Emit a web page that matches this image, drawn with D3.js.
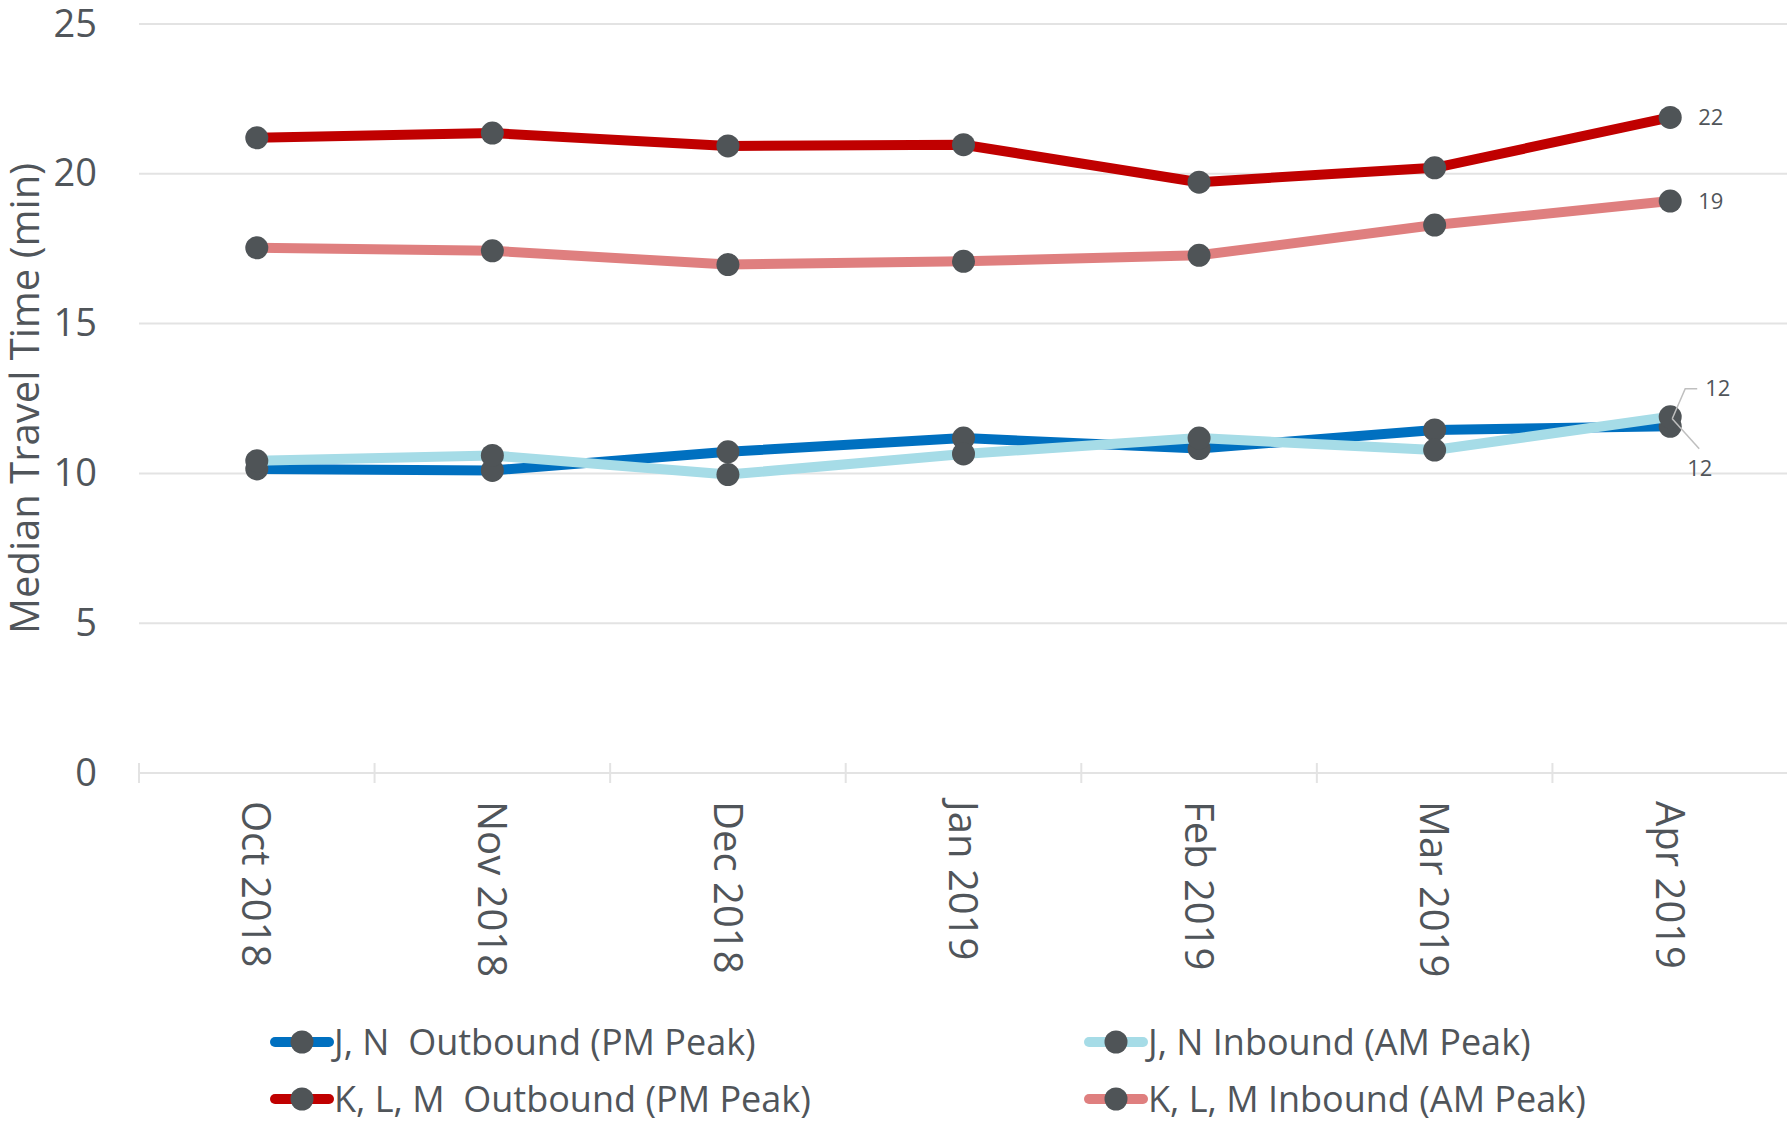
<!DOCTYPE html>
<html>
<head>
<meta charset="utf-8">
<title>Median Travel Time</title>
<script src="https://d3js.org/d3.v7.min.js"></script>
<style>
  body { margin: 0; background: #fff; }
  text { font-family: "Open Sans", "Noto Sans", sans-serif; fill: #50555a; }
</style>
</head>
<body>
<svg id="chart" width="1787" height="1124"></svg>
<script>
// data
const months = ["Oct 2018", "Nov 2018", "Dec 2018", "Jan 2019", "Feb 2019", "Mar 2019", "Apr 2019"];
const jnOutbound = [10.15, 10.1, 10.72, 11.18, 10.83, 11.45, 11.57];
const jnInbound = [10.42, 10.6, 9.96, 10.65, 11.18, 10.78, 11.89];
const klmOutbound = [21.2, 21.36, 20.93, 20.97, 19.72, 20.2, 21.88];
const klmInbound = [17.53, 17.43, 16.97, 17.08, 17.28, 18.29, 19.09];
const yTicks = [0, 5, 10, 15, 20, 25];

const series = [
  { name: "J, N  Outbound (PM Peak)", values: jnOutbound, color: "#0070c0" },
  { name: "J, N Inbound (AM Peak)", values: jnInbound, color: "#a6dce7" },
  { name: "K, L, M  Outbound (PM Peak)", values: klmOutbound, color: "#c00000" },
  { name: "K, L, M Inbound (AM Peak)", values: klmInbound, color: "#df7f7f" }
];

const svg = d3.select("#chart");
const plotL = 139, plotR = 1788, plotT = 24, plotB = 773;

const x = d3.scaleBand().domain(months).range([plotL, plotR]);
const y = d3.scaleLinear().domain([0, 25]).range([plotB, plotT]);

// gridlines
svg.append("g").selectAll("line")
  .data(yTicks)
  .join("line")
  .attr("x1", plotL).attr("x2", plotR)
  .attr("y1", d => y(d)).attr("y2", d => y(d))
  .attr("stroke", "#e3e3e3").attr("stroke-width", 2);

// y axis labels
const yAxis = svg.append("g")
  .attr("transform", `translate(${plotL},0)`)
  .call(d3.axisLeft(y).tickValues(yTicks).tickSize(0).tickPadding(42));
yAxis.select(".domain").remove();
yAxis.selectAll("text")
  .style("font-family", '"Open Sans", "Noto Sans", sans-serif')
  .style("font-size", "38px").attr("fill", "#50555a");

// x axis with cross ticks at band boundaries
const xAxis = svg.append("g").attr("transform", `translate(0,${plotB})`);
xAxis.append("line").attr("x1", plotL).attr("x2", plotR)
  .attr("stroke", "#e3e3e3").attr("stroke-width", 2);
xAxis.selectAll(".tk")
  .data(months)
  .join("line").attr("class", "tk")
  .attr("x1", d => x(d)).attr("x2", d => x(d))
  .attr("y1", -10).attr("y2", 10)
  .attr("stroke", "#e3e3e3").attr("stroke-width", 2);
xAxis.selectAll(".lbl")
  .data(months)
  .join("text").attr("class", "lbl")
  .attr("transform", d => `translate(${x(d) + x.bandwidth() / 2},28) rotate(90)`)
  .attr("dy", "0.36em")
  .style("font-size", "40px")
  .text(d => d);

// y axis title
svg.append("text")
  .attr("transform", `translate(25,${(plotT + plotB) / 2}) rotate(-90)`)
  .attr("text-anchor", "middle")
  .attr("dy", "0.36em")
  .style("font-size", "40px")
  .text("Median Travel Time (min)");

const cx = i => x(months[i]) + x.bandwidth() / 2;
const line = d3.line().x((d, i) => cx(i)).y(d => y(d));

series.forEach(s => {
  const g = svg.append("g");
  g.append("path")
    .attr("d", line(s.values))
    .attr("fill", "none")
    .attr("stroke", s.color)
    .attr("stroke-width", 10)
    .attr("stroke-linejoin", "round");
  g.selectAll("circle")
    .data(s.values)
    .join("circle")
    .attr("cx", (d, i) => cx(i))
    .attr("cy", d => y(d))
    .attr("r", 11.5)
    .attr("fill", "#4f5457");
});

// end labels for the last month
const last = months.length - 1;
const lx = cx(last);
const labelStyle = sel => sel.style("font-size", "22px").attr("fill", "#8a8e91");

svg.append("text").call(labelStyle)
  .attr("x", lx + 28).attr("y", y(klmOutbound[last])).attr("dy", "0.35em")
  .text(Math.round(klmOutbound[last]));
svg.append("text").call(labelStyle)
  .attr("x", lx + 28).attr("y", y(klmInbound[last])).attr("dy", "0.35em")
  .text(Math.round(klmInbound[last]));

// leader lines for the two overlapping J, N labels
const py = y(jnInbound[last]) + 2;
svg.append("path")
  .attr("d", `M${lx + 2},${py} L${lx + 15},${py - 30} L${lx + 27},${py - 30}`)
  .attr("fill", "none").attr("stroke", "#bfbfbf").attr("stroke-width", 1.5);
svg.append("text").call(labelStyle)
  .attr("x", lx + 35).attr("y", py - 30).attr("dy", "0.35em")
  .text(Math.round(jnInbound[last]));
svg.append("path")
  .attr("d", `M${lx + 2},${py} L${lx + 29},${py + 30}`)
  .attr("fill", "none").attr("stroke", "#bfbfbf").attr("stroke-width", 1.5);
svg.append("text").call(labelStyle)
  .attr("x", lx + 17).attr("y", py + 50).attr("dy", "0.35em")
  .text(Math.round(jnOutbound[last]));

// legend, two columns
const legendPos = [[271, 1042], [1085, 1042], [271, 1099], [1085, 1099]];
series.forEach((s, i) => {
  const [lxp, lyp] = legendPos[i];
  const g = svg.append("g").attr("transform", `translate(${lxp},${lyp})`);
  g.append("line").attr("x1", 4).attr("x2", 58)
    .attr("stroke", s.color).attr("stroke-width", 10).attr("stroke-linecap", "round");
  g.append("circle").attr("cx", 31).attr("r", 11.5).attr("fill", "#4f5457");
  g.append("text")
    .attr("x", 63).attr("dy", "0.35em")
    .style("font-size", "36px")
    .style("white-space", "pre")
    .text(s.name);
});
</script>
</body>
</html>
